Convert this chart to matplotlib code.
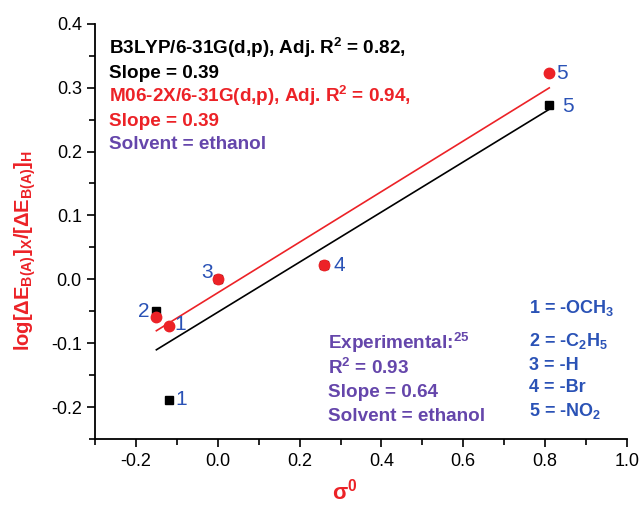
import matplotlib
matplotlib.use("Agg")
import matplotlib.pyplot as plt
import numpy as np

# substituent constants and log ratios for the two functionals
sigma0 = [-0.12, -0.15, 0.0, 0.26, 0.81]
b3lyp = [-0.188, -0.050, 0.0, 0.022, 0.273]
m062x = [-0.073, -0.059, 0.0, 0.022, 0.322]
point_ids = ["1", "2", "3", "4", "5"]
substituents = [r"1 = -OCH$_3$", r"2 = -C$_2$H$_5$", "3 = -H", "4 = -Br", r"5 = -NO$_2$"]

RED = "#ec2227"
BLUE = "#2a52b6"
PURPLE = "#6546ab"

plt.rcParams["font.family"] = ["Liberation Sans", "DejaVu Sans"]
plt.rcParams["mathtext.fontset"] = "custom"
plt.rcParams["mathtext.default"] = "regular"

fig = plt.figure(figsize=(6.44, 5.11), dpi=100)
ax = fig.add_axes([0.1475, 0.1403, 0.8261, 0.8135])

# fitted lines over the sampled range
xs = np.array([min(sigma0), max(sigma0)])
kb = np.polyfit(sigma0, b3lyp, 1)
km = np.polyfit(sigma0, m062x, 1)
ax.plot(xs, np.polyval(kb, xs), color="black", lw=1.2)
ax.plot(xs, np.polyval(km, xs), color=RED, lw=1.2)

ax.plot(sigma0, b3lyp, "s", color="black", ms=5.8, ls="none")
ax.plot(sigma0, m062x, "o", color=RED, ms=7.5, ls="none")

# point numbers
lbl = dict(color=BLUE, fontsize=15, textcoords="offset points")
ax.annotate(point_ids[0], (sigma0[0], b3lyp[0]), xytext=(5, -4), **lbl)
ax.annotate(point_ids[0], (sigma0[0], m062x[0]), xytext=(4, -3), **lbl)
ax.annotate(point_ids[1], (sigma0[1], m062x[1]), xytext=(-13, 0), **lbl)
ax.annotate(point_ids[2], (sigma0[2], m062x[2]), xytext=(-12, 1), **lbl)
ax.annotate(point_ids[3], (sigma0[3], m062x[3]), xytext=(7, -4), **lbl)
ax.annotate(point_ids[4], (sigma0[4], m062x[4]), xytext=(5, -4), **lbl)
ax.annotate(point_ids[4], (sigma0[4], b3lyp[4]), xytext=(9, -5), **lbl)

# fit statistics
txt = dict(fontsize=13.6, fontweight="bold")
ax.text(-0.265, 0.352, r"B3LYP/6-31G(d,p), Adj. R$^2$ = 0.82,", color="black", **txt)
ax.text(-0.265, 0.3145, "Slope = 0.39", color="black", **txt)
ax.text(-0.265, 0.2776, r"M06-2X/6-31G(d,p), Adj. R$^2$ = 0.94,", color=RED, **txt)
ax.text(-0.265, 0.2393, "Slope = 0.39", color=RED, **txt)
ax.text(-0.265, 0.2035, "Solvent = ethanol", color=PURPLE, **txt)

ax.text(0.27, -0.109, r"Experimental:$^{25}$", color=PURPLE, **txt)
ax.text(0.27, -0.148, r"R$^2$ = 0.93", color=PURPLE, **txt)
ax.text(0.27, -0.184, "Slope = 0.64", color=PURPLE, **txt)
ax.text(0.27, -0.221, "Solvent = ethanol", color=PURPLE, **txt)

for s, yb in zip(substituents, [-0.053, -0.1045, -0.142, -0.176, -0.213]):
    ax.text(0.76, yb, s, color=BLUE, fontsize=13, fontweight="bold")

ax.set_xlim(-0.3, 1.0)
ax.set_ylim(-0.25, 0.4)
ax.set_xticks(np.arange(-0.2, 1.01, 0.2))
ax.set_xticks(np.arange(-0.3, 1.01, 0.1), minor=True)
ax.set_yticks(np.arange(-0.2, 0.41, 0.1))
ax.set_yticks(np.arange(-0.25, 0.41, 0.05), minor=True)
ax.xaxis.set_major_formatter(plt.FormatStrFormatter("%.1f"))
ax.yaxis.set_major_formatter(plt.FormatStrFormatter("%.1f"))
ax.tick_params(which="both", direction="out", width=1.2, labelsize=13)
ax.tick_params(which="major", length=6)
ax.tick_params(which="minor", length=4)
for side in ["top", "right"]:
    ax.spines[side].set_visible(False)
for side in ["left", "bottom"]:
    ax.spines[side].set_linewidth(1.3)

ax.set_ylabel(r"log[$\Delta$E$_{B(A)}$]$_X$/[$\Delta$E$_{B(A)}$]$_H$",
              color=RED, fontsize=14.5, fontweight="bold")
ax.yaxis.set_label_coords(-0.107, 0.455)
fig.text(0.535, 0.012, r"$\sigma^0$", color=RED, fontsize=16, fontweight="bold",
         ha="center", va="bottom")

fig.savefig("out.png", dpi=100)
